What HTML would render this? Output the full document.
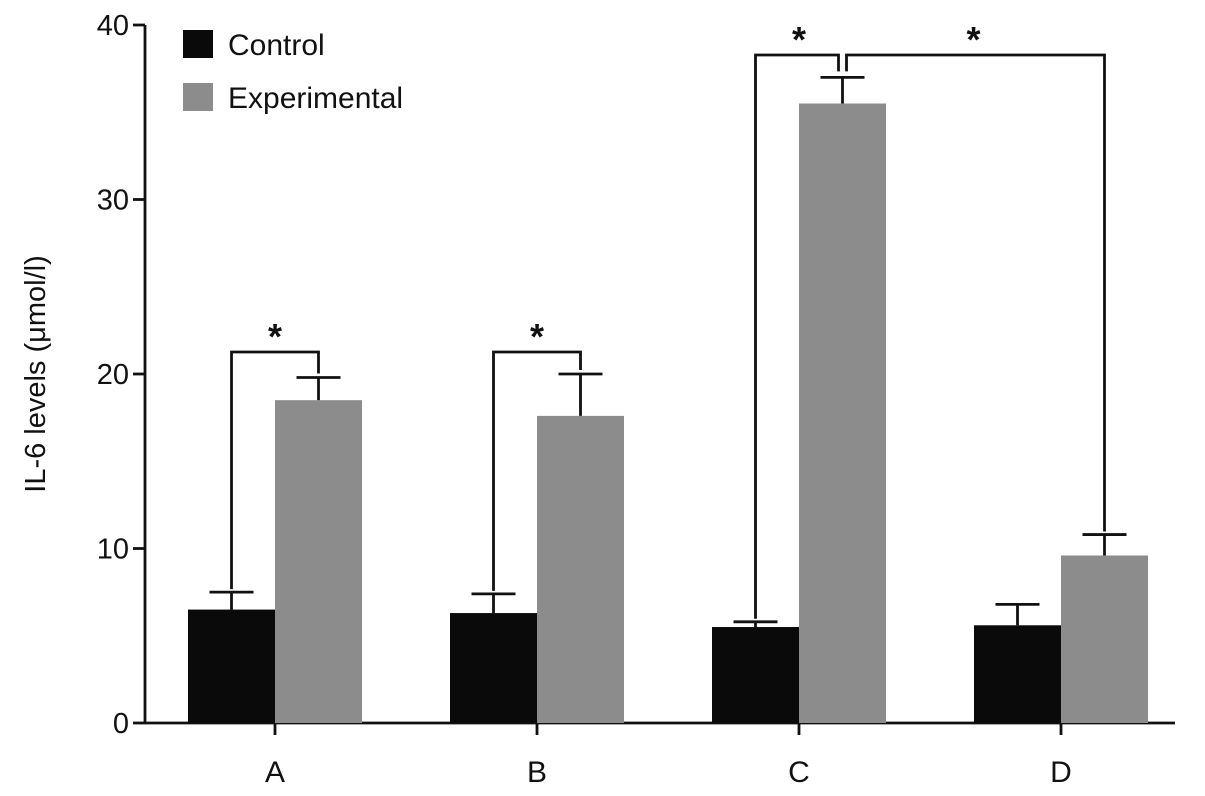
<!DOCTYPE html>
<html><head><meta charset="utf-8"><style>
body{margin:0;background:#fff;}
svg text{font-family:"Liberation Sans",Arial,sans-serif;fill:#111;}
</style></head><body>
<svg id="chart" width="1205" height="791" viewBox="0 0 1205 791">
<g id="axes"></g><g id="bars"></g><g id="anno"></g>
</svg>
<script>
const categories=["A","B","C","D"];
const controlVals=[6.5,6.3,5.5,5.6];
const controlErr=[1.0,1.1,0.3,1.2];
const expVals=[18.5,17.6,35.5,9.6];
const expErr=[1.3,2.4,1.5,1.2];
const yTicks=[0,10,20,30,40];
const NS="http://www.w3.org/2000/svg";
const x0=145,yBase=723,pxPer=17.45,groupStart=275,groupStep=262,bw=87;
const Y=v=>yBase-v*pxPer;
const GX=i=>groupStart+i*groupStep;
function mk(tag,attrs,parent,txt){const e=document.createElementNS(NS,tag);for(const k in attrs)e.setAttribute(k,attrs[k]);if(txt!==undefined)e.textContent=txt;parent.appendChild(e);return e;}
const axes=document.getElementById('axes'),bars=document.getElementById('bars'),anno=document.getElementById('anno');
let e=mk('line',{x1:x0,y1:Y(40),x2:x0,y2:yBase,stroke:'#111','stroke-width':2.8},axes);

e=mk('line',{x1:x0,y1:yBase,x2:1175,y2:yBase,stroke:'#111','stroke-width':2.8},axes);

yTicks.forEach(t=>{
 let l=mk('line',{x1:x0-12,y1:Y(t),x2:x0,y2:Y(t),stroke:'#111','stroke-width':2.8},axes);
 
 let tx=mk('text',{x:x0-16,y:Y(t)+10,'text-anchor':'end','font-size':29},axes,String(t));
 
});
categories.forEach((c,i)=>{
 let l=mk('line',{x1:GX(i),y1:yBase,x2:GX(i),y2:yBase+12,stroke:'#111','stroke-width':2.8},axes);
 
 let tx=mk('text',{x:GX(i),y:yBase+59,'text-anchor':'middle','font-size':30},axes,c);
 
});
let yt=mk('text',{x:0,y:0,transform:'translate(45,374) rotate(-90)','text-anchor':'middle','font-size':29},axes,'IL-6 levels (\u03bcmol/l)');

function errBar(cx,v,err){
 let g=mk('g',{stroke:'#111','stroke-width':2.8},bars);
 
 mk('line',{x1:cx,y1:Y(v),x2:cx,y2:Y(v+err)},g);
 mk('line',{x1:cx-22,y1:Y(v+err),x2:cx+22,y2:Y(v+err)},g);
}
categories.forEach((c,i)=>{
 let r=mk('rect',{x:GX(i)-bw,y:Y(controlVals[i]),width:bw,height:controlVals[i]*pxPer,fill:'#0a0a0a'},bars);
 
 r=mk('rect',{x:GX(i),y:Y(expVals[i]),width:bw,height:expVals[i]*pxPer,fill:'#8c8c8c'},bars);
 
 errBar(GX(i)-bw/2,controlVals[i],controlErr[i]);
 errBar(GX(i)+bw/2,expVals[i],expErr[i]);
});
function path(d,name){let p=mk('path',{d:d,fill:'none',stroke:'#111','stroke-width':2.8},anno);}
function star(x,y){let t=mk('text',{x:x,y:y,'text-anchor':'middle','font-size':36,'font-weight':'bold'},anno,'*');}
[0,1].forEach(i=>{
 const lx=GX(i)-bw/2,rx=GX(i)+bw/2,top=yBase-371;
 path(`M${lx},${Y(controlVals[i]+controlErr[i])-3} V${top} H${rx} V${Y(expVals[i]+expErr[i])-4}`,'significance-bracket');
 star(GX(i),top-3);
});
const cL=GX(2)-bw/2,cM=GX(2)+bw/2,dR=GX(3)+bw/2,topC=55;
path(`M${cL},${Y(controlVals[2]+controlErr[2])-3} V${topC} H${cM-4} V${Y(expVals[2]+expErr[2])-6}`,'significance-bracket');
path(`M${cM+4},${Y(expVals[2]+expErr[2])-6} V${topC} H${dR} V${Y(expVals[3]+expErr[3])-3}`,'significance-bracket');
star((cL+cM)/2,topC-3);star((cM+dR)/2,topC-3);
let lg=mk('g',{},anno);
let s=mk('rect',{x:183,y:30,width:30,height:28,fill:'#0a0a0a'},lg);
let t=mk('text',{x:228,y:55,'font-size':30},lg,'Control');
s=mk('rect',{x:183,y:83,width:30,height:28,fill:'#8c8c8c'},lg);
t=mk('text',{x:228,y:108,'font-size':30},lg,'Experimental');
</script>
</body></html>
